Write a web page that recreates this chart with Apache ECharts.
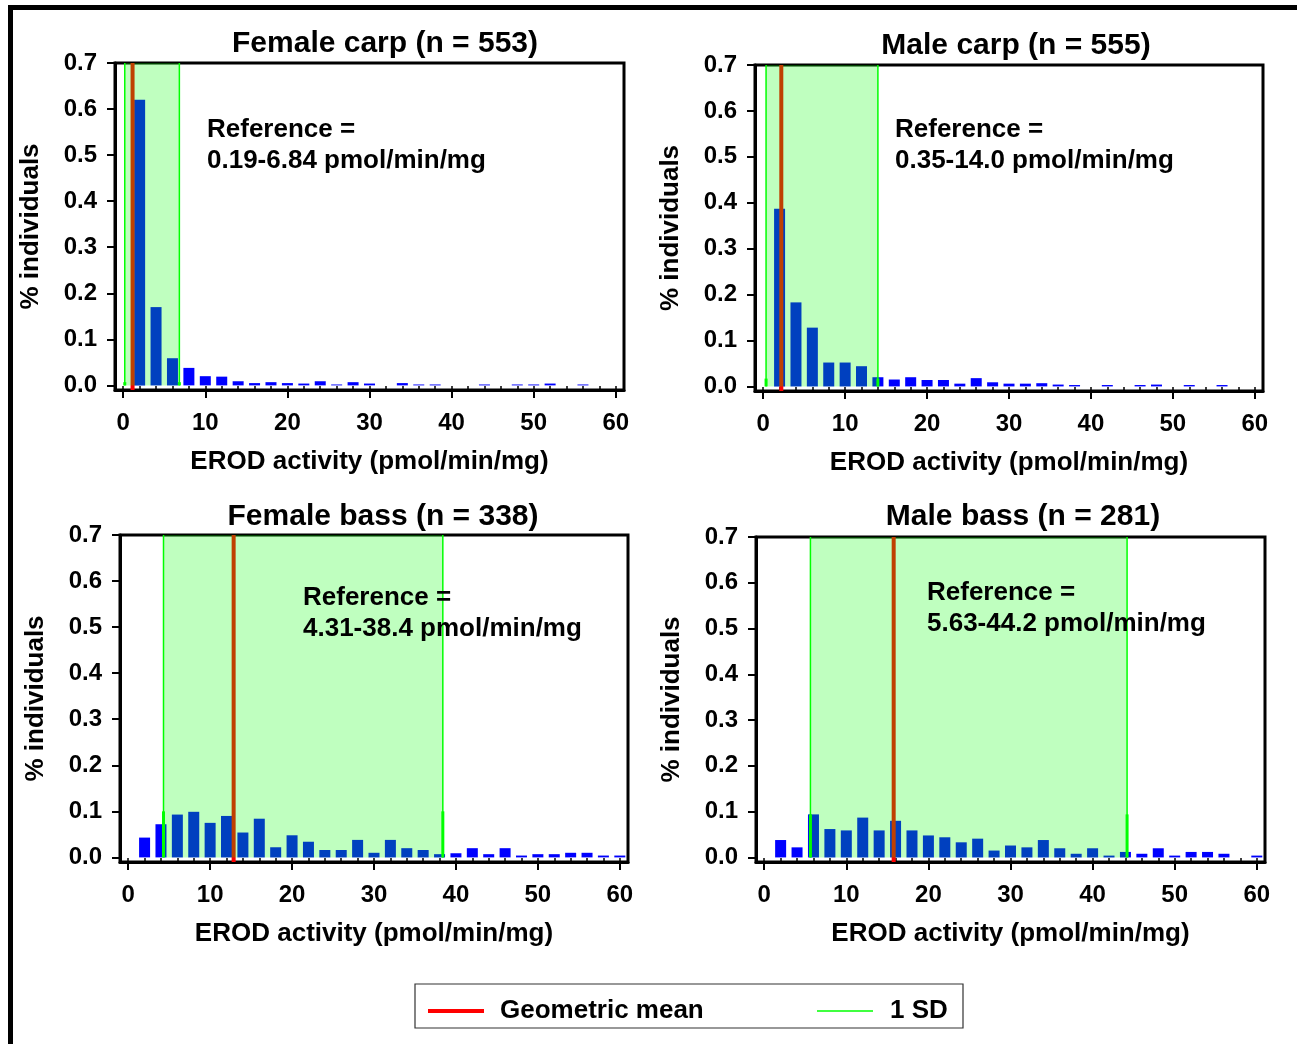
<!DOCTYPE html>
<html>
<head>
<meta charset="utf-8">
<script src="https://cdn.jsdelivr.net/npm/echarts@6/dist/echarts.min.js"></script>
<style>
html,body{margin:0;padding:0;background:#fff;}
#chart{width:1297px;height:1044px;}
</style>
</head>
<body>
<div id="chart"></div>
<script>
// ---- data ----
const binCenters = [2,4,6,8,10,12,14,16,18,20,22,24,26,28,30,32,34,36,38,40,42,44,46,48,50,52,54,56,58,60];
const femaleCarp = [0.620,0.170,0.059,0.038,0.020,0.019,0.009,0.005,0.007,0.005,0.004,0.009,0.002,0.007,0.004,0,0.005,0.002,0.002,0,0,0.002,0,0.002,0.002,0.004,0,0.002,0,0];
const maleCarp   = [0.387,0.183,0.128,0.052,0.052,0.044,0.020,0.015,0.020,0.014,0.014,0.006,0.018,0.009,0.006,0.006,0.007,0.004,0.003,0,0.003,0,0.003,0.004,0,0.003,0,0.003,0,0];
const femaleBass = [0.043,0.072,0.093,0.099,0.075,0.090,0.054,0.084,0.022,0.048,0.034,0.016,0.016,0.038,0.010,0.038,0.020,0.016,0.007,0.009,0.020,0.007,0.020,0.004,0.007,0.007,0.010,0.010,0.004,0.004];
const maleBass   = [0.038,0.022,0.094,0.062,0.059,0.087,0.059,0.080,0.059,0.048,0.044,0.033,0.041,0.015,0.026,0.022,0.038,0.020,0.008,0.020,0.004,0.012,0.008,0.020,0.004,0.012,0.012,0.008,0,0.004];
const panelTitles = ['Female carp (n = 553)','Male carp (n = 555)','Female bass (n = 338)','Male bass (n = 281)'];
const refLow  = [0.19, 0.35, 4.31, 5.63];
const refHigh = [6.84, 14.0, 38.4, 44.2];
const geoMean = [1.14, 2.21, 12.87, 15.77];
const sdMarkHeight = [0.007, 0.017, 0.1, 0.094];
const refLabels = ['0.19-6.84 pmol/min/mg','0.35-14.0 pmol/min/mg','4.31-38.4 pmol/min/mg','5.63-44.2 pmol/min/mg'];
const xTickLabels = [0,10,20,30,40,50,60];
const xMinorTicks = [0,2,4,6,8,10,12,14,16,18,20,22,24,26,28,30,32,34,36,38,40,42,44,46,48,50,52,54,56,58,60];
const yTickLabels = [0,0.1,0.2,0.3,0.4,0.5,0.6,0.7];
const xAxisName = 'EROD activity (pmol/min/mg)';
const yAxisName = '% individuals';
const legendNames = ['Geometric mean','1 SD'];
const seriesValues = [femaleCarp, maleCarp, femaleBass, maleBass];

// ---- layout ----
const FONT = '"Liberation Sans", Arial, sans-serif';
const grids = [
  {left:115, top:63, width:509, height:327},
  {left:755, top:65, width:508, height:326},
  {left:120, top:535, width:508, height:327},
  {left:756, top:537, width:509, height:325}
];
const titlePos = [[385,44],[1016,46],[383,517],[1023,517]];
const refPos = [[207,145],[895,145],[303,613],[927,608]];

const chart = echarts.init(document.getElementById('chart'), null, {renderer:'canvas'});

const option = {
  animation:false,
  backgroundColor:'#fff',
  grid: grids.map(g => Object.assign({show:true, borderColor:'#000', borderWidth:3, backgroundColor:'transparent'}, g)),
  xAxis: [], yAxis: [], series: [], graphic: []
};

grids.forEach((g, i) => {
  option.xAxis.push({
    type:'value', gridIndex:i, min:-1, max:61,
    name:xAxisName, nameLocation:'middle', nameGap:59,
    nameTextStyle:{fontFamily:FONT, fontWeight:'bold', fontSize:26, color:'#000'},
    axisLine:{show:true, onZero:false, lineStyle:{color:'#000', width:3}},
    axisTick:{show:true, customValues:xTickLabels, length:8, lineStyle:{color:'#000', width:2}},
    axisLabel:{show:true, customValues:xTickLabels, margin:21, fontFamily:FONT, fontWeight:'bold', fontSize:24, color:'#000'},
    splitLine:{show:false}
  });
  option.xAxis.push({
    type:'value', gridIndex:i, min:-1, max:61, position:'bottom',
    axisLine:{show:false, onZero:false},
    axisTick:{show:true, inside:true, customValues:xMinorTicks, length:4, lineStyle:{color:'#000', width:1.5}},
    axisLabel:{show:false},
    splitLine:{show:false}
  });
  option.yAxis.push({
    type:'value', gridIndex:i, min:-0.01, max:0.7,
    name:yAxisName, nameLocation:'middle', nameGap:71, nameRotate:90,
    nameTextStyle:{fontFamily:FONT, fontWeight:'bold', fontSize:26, color:'#000'},
    axisLine:{show:true, onZero:false, lineStyle:{color:'#000', width:3}},
    axisTick:{show:true, customValues:yTickLabels, length:8, lineStyle:{color:'#000', width:2}},
    axisLabel:{show:true, customValues:yTickLabels, margin:18, formatter:v => v.toFixed(1), fontFamily:FONT, fontWeight:'bold', fontSize:24, color:'#000'},
    splitLine:{show:false}
  });
  const xi = i*2;
  option.series.push({
    type:'bar', xAxisIndex:xi, yAxisIndex:i, z:2,
    barWidth:11,
    itemStyle:{color:'#0000FF'},
    data: binCenters.map((x, k) => [x, seriesValues[i][k]])
  });
  option.series.push({
    type:'line', name:legendNames[0], xAxisIndex:xi, yAxisIndex:i, z:3,
    symbol:'none', lineStyle:{color:'#FF0000', width:4},
    data: [[geoMean[i], -0.01],[geoMean[i], 0.7]]
  });
  option.series.push({
    type:'custom', name:legendNames[1], xAxisIndex:xi, yAxisIndex:i, z:4,
    data: [[refLow[i], refHigh[i], sdMarkHeight[i]]],
    renderItem: (params, api) => {
      const lo = api.value(0), hi = api.value(1), h = api.value(2);
      const a = api.coord([lo, 0.7]);
      const b = api.coord([hi, 0]);
      const ha = api.coord([lo, h]);
      return {type:'group', children:[
        {type:'rect', shape:{x:a[0], y:a[1], width:b[0]-a[0], height:b[1]-a[1]}, style:{fill:'rgba(0,255,0,0.25)'}},
        {type:'line', shape:{x1:a[0], y1:a[1], x2:a[0], y2:b[1]}, style:{stroke:'#00FF00', lineWidth:1.5}},
        {type:'line', shape:{x1:b[0], y1:a[1], x2:b[0], y2:b[1]}, style:{stroke:'#00FF00', lineWidth:1.5}},
        {type:'line', shape:{x1:a[0], y1:ha[1], x2:a[0], y2:b[1]}, style:{stroke:'#00FF00', lineWidth:3}},
        {type:'line', shape:{x1:b[0], y1:ha[1], x2:b[0], y2:b[1]}, style:{stroke:'#00FF00', lineWidth:3}}
      ]};
    }
  });
  option.graphic.push({
    type:'text', x:titlePos[i][0], y:titlePos[i][1], z:10,
    style:{text:panelTitles[i], font:'bold 30px ' + FONT, fill:'#000', textAlign:'center', textVerticalAlign:'middle'}
  });
  option.graphic.push({
    type:'text', x:refPos[i][0], y:refPos[i][1], z:10,
    style:{text:'Reference =\n' + refLabels[i], font:'bold 26px ' + FONT, fill:'#000', textAlign:'left', textVerticalAlign:'middle', lineHeight:31}
  });
});

option.graphic.push(
  {type:'rect', shape:{x:415, y:984, width:548, height:44}, style:{fill:'#fff', stroke:'#333', lineWidth:1.2}, z:10},
  {type:'line', shape:{x1:428, y1:1011, x2:484, y2:1011}, style:{stroke:'#FF0000', lineWidth:4}, z:11},
  {type:'text', x:500, y:1011, z:11, style:{text:legendNames[0], font:'bold 26px ' + FONT, fill:'#000', textVerticalAlign:'middle'}},
  {type:'line', shape:{x1:817, y1:1011, x2:873, y2:1011}, style:{stroke:'#00FF00', lineWidth:1.5}, z:11},
  {type:'text', x:890, y:1011, z:11, style:{text:legendNames[1], font:'bold 26px ' + FONT, fill:'#000', textVerticalAlign:'middle'}},
  {type:'polyline', shape:{points:[[10.5,1050],[10.5,7.5],[1300,7.5]]}, style:{stroke:'#000', lineWidth:5, fill:null}, z:11}
);

chart.setOption(option);
</script>
</body>
</html>
